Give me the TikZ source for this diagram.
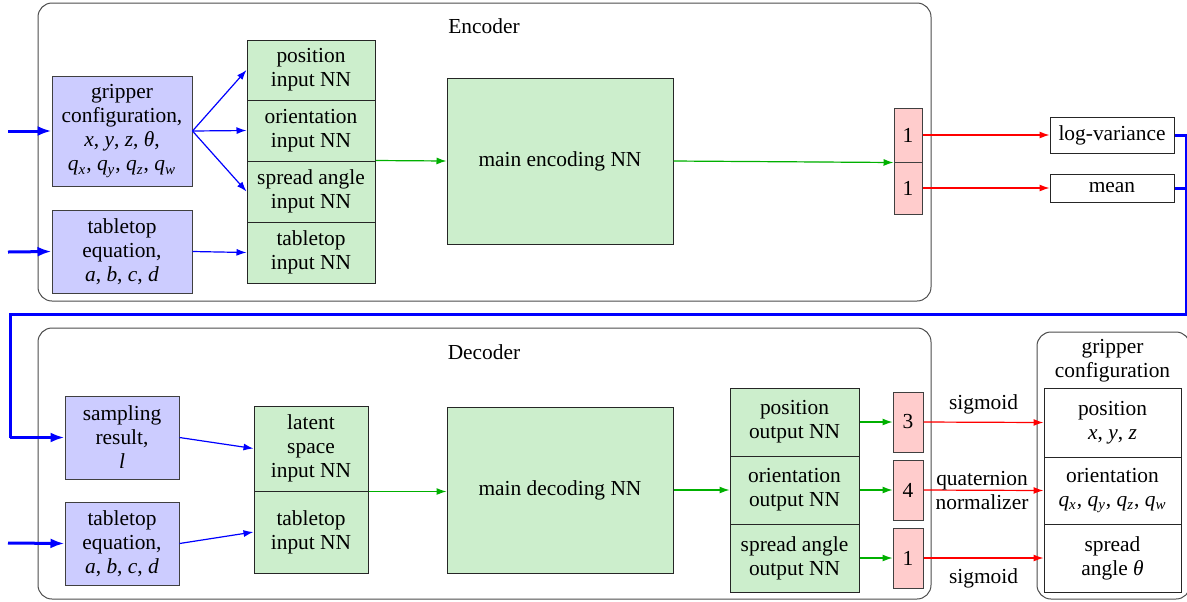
\documentclass[tikz,border=0pt]{standalone}
\usepackage{fontspec}
\setmainfont{Liberation Serif}
\usetikzlibrary{arrows.meta}
\definecolor{inblue}{RGB}{204,204,255}
\definecolor{nngreen}{RGB}{204,238,204}
\definecolor{outred}{RGB}{255,204,204}
\definecolor{arrgreen}{RGB}{0,176,0}
\newcommand{\vi}[1]{\textit{#1}}
\newcommand{\qsub}[1]{\textit{q}\textsubscript{\textit{#1}}}
\begin{document}
\begin{tikzpicture}[x=0.5pt,y=-0.5pt,
  every node/.style={font=\fontsize{10.7pt}{12pt}\selectfont},
  container/.style={draw=black!70,rounded corners=7pt,line width=0.5pt,inner sep=0pt},
  inbox/.style={draw=black!75,fill=inblue,align=center,inner sep=0pt,line width=0.5pt},
  nnbox/.style={draw=black!85,fill=nngreen,align=center,inner sep=0pt,line width=0.5pt},
  redbox/.style={draw=black!75,fill=outred,align=center,inner sep=0pt,line width=0.5pt},
  plainbox/.style={draw=black!85,fill=white,align=center,inner sep=0pt,line width=0.5pt},
  bthin/.style={draw=blue,line width=0.6pt,-{Latex[length=5pt,width=3.5pt]}},
  gthin/.style={draw=arrgreen,fill=arrgreen,line width=0.6pt,-{Latex[length=5pt,width=3.5pt]}},
  rthin/.style={draw=red,fill=red,line width=0.6pt,-{Latex[length=5pt,width=3.5pt]}},
  bthick/.style={draw=blue,line width=1.5pt},
  bthickarr/.style={draw=blue,line width=1.5pt,-{Latex[length=7pt,width=5pt]}}]
\useasboundingbox (0,0) rectangle (1187,601);

% ---------------- Encoder ----------------
\node[container,minimum width=446.5pt,minimum height=149pt] (enc) at (484.5,152) {};
\node (enctitle) at (484,26) {Encoder};

\node[inbox,minimum width=70pt,minimum height=55pt] (gc) at (122,131)
  {gripper\\configuration,\\\vi{x}, \vi{y}, \vi{z}, \vi{θ},\\\qsub{x}, \qsub{y}, \qsub{z}, \qsub{w}};
\node[inbox,minimum width=70pt,minimum height=41.5pt] (te) at (122,251.5)
  {tabletop\\equation,\\\vi{a}, \vi{b}, \vi{c}, \vi{d}};

\node[nnbox,minimum width=64pt,minimum height=30pt] (pin) at (311,70) {position\\input NN};
\node[nnbox,minimum width=64pt,minimum height=30.5pt] (oin) at (311,130.5) {orientation\\input NN};
\node[nnbox,minimum width=64pt,minimum height=30.5pt] (sin) at (311,191.5) {spread angle\\input NN};
\node[nnbox,minimum width=64pt,minimum height=30.5pt] (tin) at (311,252.5) {tabletop\\input NN};

\node[nnbox,minimum width=113pt,minimum height=83pt] (menc) at (560,161) {main encoding NN};

\node[redbox,minimum width=14pt,minimum height=27pt] (r1) at (908,135) {1};
\node[redbox,minimum width=14pt,minimum height=26pt] (r2) at (908,188) {1};

\node[plainbox,minimum width=62pt,minimum height=18pt] (lv) at (1112,135) {log-variance};
\node[plainbox,minimum width=62pt,minimum height=14pt] (mn) at (1112,188) {mean};

\coordinate (ia) at (8,131);
\coordinate (ib) at (8,252);
\draw[bthickarr] (ia) -- (gc.west);
\draw[bthickarr] (ib) -- (te.west);

\draw[bthin] (gc.east) -- (pin.west);
\draw[bthin] (gc.east) -- (oin.west);
\draw[bthin] (gc.east) -- (sin.west);
\draw[bthin] (te.east) -- (tin.west);

\draw[gthin] (sin.north east) -- (menc.west);
\draw[gthin] (menc.east) -- (r1.south west);
\draw[rthin] (r1.east) -- (lv.west);
\draw[rthin] (r2.east) -- (mn.west);

% ---------------- Decoder ----------------
\node[container,minimum width=446.5pt,minimum height=135.5pt] (dec) at (484.5,463.5) {};
\node (dectitle) at (484,352) {Decoder};

\node[inbox,minimum width=57pt,minimum height=41.5pt] (sr) at (122,437.5)
  {sampling\\result,\\\vi{l}};
\node[inbox,minimum width=57pt,minimum height=41.5pt] (td) at (122,543.5)
  {tabletop\\equation,\\\vi{a}, \vi{b}, \vi{c}, \vi{d}};

\node[nnbox,minimum width=57pt,minimum height=42.5pt] (lin) at (311,448.5) {latent\\space\\input NN};
\node[nnbox,minimum width=57pt,minimum height=41pt] (tdin) at (311,532) {tabletop\\input NN};

\node[nnbox,minimum width=113pt,minimum height=83pt] (mdec) at (560,490) {main decoding NN};

\node[nnbox,minimum width=64.5pt,minimum height=34pt] (pout) at (794.5,422) {position\\output NN};
\node[nnbox,minimum width=64.5pt,minimum height=34pt] (oout) at (794.5,490) {orientation\\output NN};
\node[nnbox,minimum width=64.5pt,minimum height=34pt] (sout) at (794.5,558) {spread angle\\output NN};

\node[redbox,minimum width=15pt,minimum height=30pt] (d3) at (908,422) {3};
\node[redbox,minimum width=15pt,minimum height=30pt] (d4) at (908,490) {4};
\node[redbox,minimum width=15pt,minimum height=30pt] (d1) at (908,558) {1};

% gripper configuration output
\node[container,minimum width=76.5pt,minimum height=133.5pt] (gout) at (1113.5,465.5) {};
\node[align=center] (gouttitle) at (1112.5,361) {gripper\\configuration};
\node[plainbox,minimum width=68.5pt,minimum height=34.5pt] (gp) at (1112.5,422.5) {position\\\vi{x}, \vi{y}, \vi{z}};
\node[plainbox,minimum width=68.5pt,minimum height=33.5pt] (go) at (1112.5,490.5) {orientation\\\qsub{x}, \qsub{y}, \qsub{z}, \qsub{w}};
\node[plainbox,minimum width=68.5pt,minimum height=34pt] (gs) at (1112.5,558) {spread\\angle \vi{θ}};

\coordinate (ic) at (8,543);
\draw[bthickarr] (ic) -- (td.west);

\draw[bthin] (sr.east) -- (lin.west);
\draw[bthin] (td.east) -- (tdin.west);
\draw[gthin] (lin.south east) -- (mdec.west |- lin.south east);
\draw[gthin] (mdec.east) -- (oout.west);
\draw[gthin] (pout.east) -- (d3.west);
\draw[gthin] (oout.east) -- (d4.west);
\draw[gthin] (sout.east) -- (d1.west);

\draw[rthin] (d3.east) -- node[above=0.5pt,black] (lsig1) {sigmoid} (gp.west);
\draw[rthin] (d4.east) -- (go.west);
\node[align=center] (lquat) at (982,491) {quaternion\\normalizer};
\draw[rthin] (d1.east) -- node[below=1.5pt,black] (lsig2) {sigmoid} (gs.west);

% ---------------- latent path ----------------
\coordinate (c1) at (1186,135);
\coordinate (c2) at (1186,314);
\coordinate (c3) at (10,314);
\coordinate (c4) at (10,437.5);
\coordinate (c5) at (1186,188);
\draw[bthick] (lv.east) -- (c1) -- (c2) -- (c3) -- (c4);
\draw[bthickarr] (c4) -- (sr.west);
\draw[bthick] (mn.east) -- (c5);
\end{tikzpicture}
\end{document}
